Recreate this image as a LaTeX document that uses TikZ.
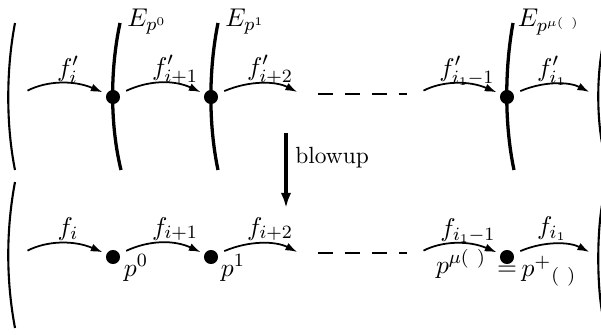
\documentclass[tikz,border=0pt]{standalone}
\usepackage{amsmath}
\usetikzlibrary{arrows.meta}

\begin{document}
\begin{tikzpicture}[
  x=0.015cm, y=-0.015cm,
  >={Latex[length=5pt,width=3.4pt]},
  map/.style={->, line width=0.75pt, bend left=25, shorten <=3pt, shorten >=1.7pt},
  freestart/.style={shorten <=6pt},
  freeend/.style={shorten >=4.7pt},
  divisor/.style={line width=1.4pt},
  bracket/.style={line width=0.9pt},
  gap/.style={line width=0.9pt, dash pattern=on 6.4pt off 5.1pt},
  point/.style={circle, fill=black, inner sep=0pt, minimum size=6pt},
  lab/.style={font=\fontsize{11}{13}\selectfont},
  blowarrow/.style={-{Latex[length=6.5pt,width=4.5pt]}, line width=1.3pt}
]
\useasboundingbox (0,0) rectangle (601,335);

% Upper row: points on the exceptional curves.
\node[point] (u0) at (113,97) {};
\node[point] (u1) at (211,97) {};
\node[point] (u2) at (507,97) {};

\draw[bracket] (15,23) .. controls (6,70) and (6,125) .. (15,170);
\draw[bracket] (602,50) .. controls (597,78) and (597,115) .. (602,143);

\draw[divisor] (120,23) .. controls (110,70) and (110,125) .. (121,170);
\draw[divisor] (218,23) .. controls (208.5,70) and (208.5,125) .. (218,170);
\draw[divisor] (513,23) .. controls (504.5,70) and (504.5,125) .. (514,170);

\node[lab] (E0) at (147,22) {$E_{p^0}$};
\node[lab] (E1) at (245,22) {$E_{p^1}$};
\node[lab] (E2) at (549,22) {$E_{p^{\mu(\ )}}$};

% Upper row maps.
\coordinate (ul) at (15,97);
\coordinate (ur1) at (307,97);
\coordinate (ul2) at (411,97);
\coordinate (ur2) at (599,97);

\draw[map, freestart] (ul) to (u0);
\draw[map] (u0) to (u1);
\draw[map, freeend] (u1) to (ur1);
\draw[gap] (318,94) -- (407,94);
\draw[map, freestart] (ul2) to (u2);
\draw[map, freeend] (u2) to (ur2);

\node[lab] (fu0) at (68,70) {$f'_i$};
\node[lab] (fu1) at (175,70) {$f'_{i+1}$};
\node[lab] (fu2) at (270,70) {$f'_{i+2}$};
\node[lab] (fu3) at (467,71) {$f'_{i_1-1}$};
\node[lab] (fu4) at (552,71) {$f'_{i_1}$};

% Blow-up between the rows.
\coordinate (bt) at (286,133);
\coordinate (bb) at (286,208);
\draw[blowarrow] (bt) -- node[right, pos=0.33] (blow) {blowup} (bb);

% Lower row: points before the blow-up.
\node[point] (b0) at (113,257) {};
\node[point] (b1) at (211,257) {};
\node[point] (b2) at (507,257) {};

\draw[bracket] (15,182) .. controls (6,230) and (6,280) .. (15,328);
\draw[bracket] (602,205) .. controls (597,235) and (597,282) .. (602,312);

\coordinate (bl) at (15,257);
\coordinate (br1) at (307,257);
\coordinate (bl2) at (411,257);
\coordinate (br2) at (599,257);

\draw[map, freestart] (bl) to (b0);
\draw[map] (b0) to (b1);
\draw[map, freeend] (b1) to (br1);
\draw[gap] (318,253) -- (407,253);
\draw[map, freestart] (bl2) to (b2);
\draw[map, freeend] (b2) to (br2);

\node[lab] (fb0) at (68,229) {$f_i$};
\node[lab] (fb1) at (175,229) {$f_{i+1}$};
\node[lab] (fb2) at (270,229) {$f_{i+2}$};
\node[lab] (fb3) at (468,231) {$f_{i_1-1}$};
\node[lab] (fb4) at (552,229) {$f_{i_1}$};

\node[lab] (p0) at (136,268) {$p^0$};
\node[lab] (p1) at (233,268) {$p^1$};
\node[lab] (pmu) at (461,264) {$p^{\mu(\ )}$};
\node[lab] (eq) at (507,271) {$=$};
\node[lab] (pplus) at (549,271) {$p^{+}{}_{(\ )}$};

\end{tikzpicture}
\end{document}
